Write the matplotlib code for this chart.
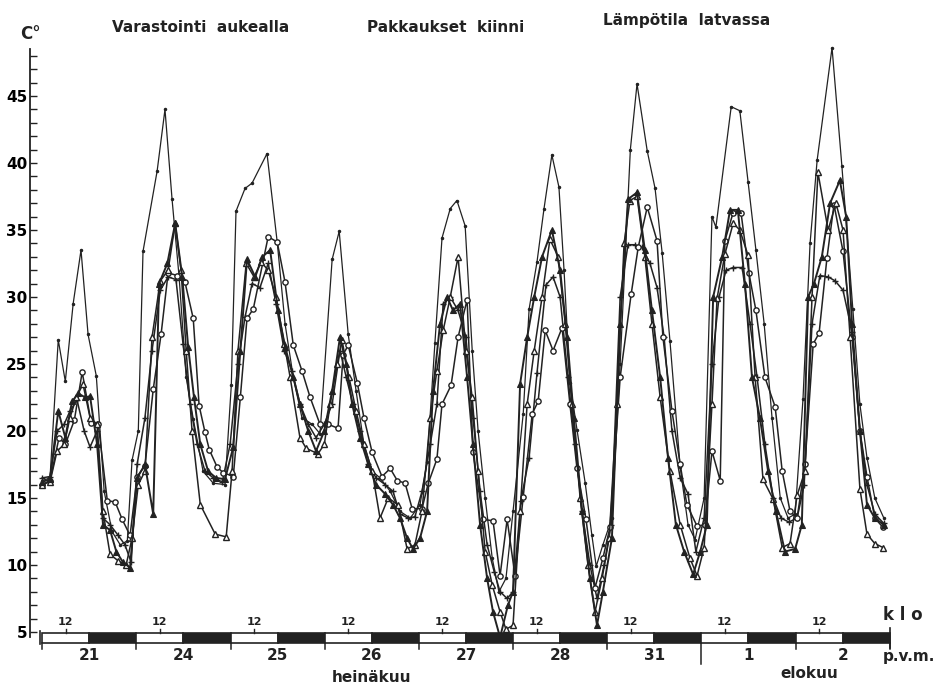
import matplotlib
matplotlib.use("Agg")
import matplotlib.pyplot as plt
from matplotlib.patches import Rectangle

# ---- data: time in hours from 21.7. klo 06, temperature in °C ----
a_t = [0.0, 2.0, 4.1, 5.9, 7.9, 9.9, 11.7, 13.8, 15.8, 17.8, 19.9, 21.7, 22.9, 24.5, 25.7, 29.3, 31.3, 33.1,
       34.9, 36.7, 38.5, 41.0, 43.6, 46.6, 48.2, 49.4, 51.7, 53.5, 57.3, 59.9, 61.9, 64.0, 66.2, 68.8, 70.8,
       73.9, 75.7, 78.0, 80.0, 82.0, 84.1, 86.1, 88.7, 91.2, 93.8, 96.3, 98.1, 100.1, 101.9, 104.0, 105.7,
       107.8, 109.6, 111.1, 112.9, 114.7, 116.4, 118.2, 120.0, 122.6, 124.1, 126.1, 127.9, 129.9, 131.7,
       133.0, 134.5, 136.3, 138.4, 140.1, 141.2, 142.9, 145.2, 147.3, 149.9, 151.6, 154.2, 156.2, 158.0,
       160.0, 162.6, 164.6, 166.4, 168.7, 170.7, 171.7, 175.6, 177.8, 179.9, 181.9, 184.0, 186.0, 188.1,
       190.1, 191.9, 193.9, 195.7, 197.5, 201.3, 203.8, 206.6, 208.4, 210.2, 212.2, 214.5]
a_v = [16.3, 16.5, 26.8, 23.7, 29.5, 33.5, 27.2, 24.1, 15.5, 12.5, 11.5, 11.8, 17.8, 20.0, 33.4, 39.4, 44.0, 37.3,
       31.5, 24.0, 20.9, 17.0, 16.1, 16.0, 23.4, 36.4, 38.1, 38.5, 40.7, 34.1, 28.0, 24.0, 21.0, 20.5, 19.8,
       32.8, 34.9, 27.2, 23.0, 19.0, 17.0, 16.5, 15.5, 14.0, 13.5, 14.5, 17.7, 26.6, 34.4, 36.6, 37.2,
       35.3, 26.0, 20.0, 15.0, 10.5, 8.0, 9.0, 14.0, 21.3, 29.1, 32.6, 36.6, 40.6, 38.2,
       32.0, 23.6, 20.1, 16.1, 12.2, 9.9, 11.5, 13.5, 25.0, 41.0, 45.9, 40.9, 38.1, 33.3,
       26.7, 17.3, 13.0, 11.9, 15.0, 36.0, 35.2, 44.2, 43.9, 38.6, 33.5, 28.0, 21.0, 15.0,
       13.5, 13.8, 22.4, 34.0, 40.2, 48.6, 39.8, 29.1, 22.0, 18.0, 15.0, 13.5]

b_t = [0.0, 2.0, 4.3, 5.9, 8.2, 10.2, 12.5, 14.3, 16.6, 18.6, 20.4, 22.4,
       24.2, 26.2, 28.3, 30.3, 32.1, 34.4, 36.4, 38.5, 40.0, 41.5, 42.6, 44.6, 46.1, 48.7,
       50.5, 52.2, 53.8, 57.6, 59.9, 61.9, 64.0, 66.2, 68.3, 70.8,
       72.9, 75.4, 76.7, 78.0, 80.3, 82.0, 84.1, 86.6, 88.7, 90.5, 92.5, 94.3, 96.8,
       98.4, 100.6, 101.9, 104.2, 106.0, 108.3, 109.8, 112.4, 114.9, 116.7, 118.5,
       120.5, 122.6, 124.9, 126.4, 128.2, 130.2, 132.5, 134.5, 136.3, 138.6, 140.9, 142.9, 144.7,
       147.3, 150.1, 151.9, 154.2, 156.7, 158.2, 160.5, 162.6, 164.3, 166.9,
       168.9, 170.7, 172.8, 174.0, 176.1, 178.1, 180.1, 181.9, 184.2, 186.8, 188.6, 190.6,
       192.4, 194.4, 196.5, 198.0, 200.0, 201.8, 204.1, 206.4, 208.4, 210.2, 212.2, 214.3]
b_v = [16.0, 16.3, 19.5, 19.0, 20.8, 24.4, 20.6, 20.5, 14.8, 14.7, 13.4, 12.2,
       16.6, 17.4, 23.1, 27.2, 31.8, 31.6, 31.1, 28.4, 21.9, 19.9, 18.6, 17.3, 16.9, 16.6,
       22.5, 28.4, 29.1, 34.5, 34.1, 31.1, 26.4, 24.5, 22.5, 20.5,
       20.5, 20.2, 25.7, 26.4, 23.6, 21.0, 18.4, 16.6, 17.2, 16.3, 16.1, 14.2, 14.2,
       16.1, 17.9, 22.0, 23.4, 27.0, 29.8, 18.4, 13.4, 13.3, 9.2, 13.4,
       9.2, 15.1, 21.3, 22.2, 27.5, 26.0, 27.7, 22.0, 17.2, 13.4, 8.3, 10.5, 12.8,
       24.0, 30.2, 33.7, 36.7, 34.2, 27.0, 21.5, 17.5, 14.5, 12.9,
       13.0, 18.5, 16.3, 34.2, 36.3, 36.3, 31.8, 29.0, 24.0, 21.8, 17.0, 14.0,
       13.5, 17.5, 26.5, 27.3, 32.9, 36.9, 33.4, 27.0, 20.0, 16.6, 13.5, 12.8]

c_t = [0.0, 2.0, 4.1, 5.9, 7.6, 9.2, 11.0, 12.2, 14.0, 15.5, 17.3, 18.9, 20.6, 22.4,
       24.2, 26.2, 28.3, 29.8, 31.9, 33.9, 35.7, 37.2, 38.7, 40.3, 42.3, 44.3, 46.6,
       48.7, 50.5, 52.2, 54.3, 56.1, 58.1, 60.1, 61.9, 64.0, 65.7, 67.8, 69.8,
       71.9, 73.9, 75.9, 77.5, 79.0, 81.0, 83.1, 85.1, 87.4, 89.4, 91.2, 93.0, 94.5,
       96.3, 98.1, 99.6, 101.4, 103.2, 104.7, 106.5, 108.3, 109.8, 111.6, 113.4, 114.9, 116.7,
       118.7, 120.0, 121.8, 123.6, 125.4, 127.4, 129.9, 132.0, 133.8, 135.5, 137.6, 139.6, 141.4,
       142.9, 145.2, 147.3, 149.3, 151.6, 153.6, 155.4, 157.5, 159.5, 161.5, 163.6, 165.9,
       167.7, 169.4, 171.0, 173.3, 175.3, 177.3, 179.1, 180.9, 182.9, 185.0, 187.0, 189.3,
       191.9, 193.6, 195.2, 196.7, 198.7, 200.8, 203.3, 204.9, 206.4, 208.4, 210.2, 212.2, 214.5]
c_v = [16.2, 16.4, 21.5, 19.5, 22.2, 22.8, 22.5, 22.6, 19.0, 13.0, 12.6, 11.0, 10.2, 9.8,
       16.5, 17.5, 13.8, 31.0, 32.5, 35.5, 31.5, 26.3, 22.5, 19.0, 17.0, 16.5, 16.4,
       18.8, 26.0, 32.8, 31.5, 33.0, 33.5, 29.0, 26.3, 24.0, 22.0, 20.0, 18.5,
       20.0, 23.0, 27.0, 25.0, 22.0, 19.5, 17.5, 16.0, 15.3, 14.5, 13.5, 12.0, 11.2,
       12.0, 14.0, 23.0, 28.0, 30.0, 29.0, 29.5, 24.0, 19.0, 13.0, 9.0, 6.5, 4.6,
       7.0, 8.0, 23.5, 27.0, 30.0, 33.0, 35.0, 32.0, 27.0, 21.0, 14.0, 9.0, 5.5,
       8.0, 12.0, 28.0, 37.3, 37.8, 33.5, 29.0, 24.0, 18.0, 13.0, 11.0, 9.3,
       11.0, 13.0, 30.0, 33.0, 36.5, 36.5, 31.0, 24.0, 21.0, 17.0, 14.0, 11.0,
       11.2, 13.0, 30.0, 31.0, 33.0, 37.0, 38.7, 36.0, 28.0, 20.0, 14.5, 13.5, 13.0]

d_t = [0.0, 2.0, 3.8, 5.6, 7.1, 8.7, 10.4, 12.2, 14.0, 15.5, 17.3, 19.4, 21.4, 22.9,
       24.5, 26.2, 28.0, 30.1, 32.1, 33.9, 35.4, 36.7, 38.2, 40.3, 44.1, 46.9,
       48.4, 49.9, 52.0, 54.0, 55.8, 57.6, 59.6, 61.7, 63.2, 65.7, 67.3, 70.3,
       71.9, 73.4, 75.2, 76.4, 78.2, 80.0, 82.0, 84.1, 86.1, 88.2, 90.7, 93.0, 95.0,
       96.8, 98.9, 100.6, 102.2, 104.0, 106.0, 108.0, 109.6, 111.1, 112.9, 114.7, 116.7, 118.2,
       120.0, 121.8, 123.6, 125.4, 127.4, 129.4, 131.5, 133.3, 135.0, 137.1, 139.1, 140.9, 142.7,
       144.5, 146.5, 148.3, 149.8, 151.6, 153.6, 155.4, 157.5, 160.0, 162.6, 165.1, 166.9,
       168.7, 170.7, 172.0, 174.0, 176.1, 177.8, 179.9, 181.7, 183.7, 186.3, 188.6, 190.6,
       192.4, 194.4, 196.2, 197.7, 200.3, 202.3, 204.1, 205.9, 208.4, 210.2, 212.2, 214.3]
d_v = [16.0, 16.2, 18.5, 19.0, 21.0, 22.5, 23.5, 21.0, 20.5, 14.0, 10.8, 10.3, 10.0, 12.0,
       16.0, 17.0, 27.0, 31.2, 32.0, 35.5, 32.0, 26.0, 20.0, 14.5, 12.3, 12.1,
       17.0, 26.0, 32.5, 31.5, 32.6, 32.0, 30.0, 26.5, 24.0, 19.5, 18.7, 18.3,
       19.0, 22.0, 25.0, 26.8, 24.0, 21.5, 19.0, 17.0, 13.5, 15.0, 14.5, 11.2, 11.5,
       14.0, 21.0, 24.5, 27.5, 30.0, 33.0, 26.0, 22.5, 17.0, 11.0, 8.5, 6.5, 5.2,
       5.5, 14.0, 22.0, 26.0, 30.0, 34.3, 33.0, 28.0, 22.0, 15.0, 10.0, 6.5, 9.0,
       12.0, 22.0, 34.0, 37.2, 37.5, 33.0, 28.0, 22.5, 17.0, 13.0, 10.5, 9.2,
       11.3, 22.0, 29.9, 33.2, 35.5, 35.0, 33.1, 24.0, 16.4, 14.9, 11.3, 11.6,
       15.2, 17.0, 30.0, 39.3, 35.0, 37.0, 35.0, 27.0, 15.7, 12.3, 11.6, 11.3]

e_t = [0.0, 2.0, 3.8, 5.6, 7.1, 8.9, 10.7, 12.2, 14.0, 15.5, 17.3, 19.4, 21.1, 22.7,
       24.2, 26.2, 28.0, 30.1, 32.1, 34.1, 35.9, 37.7, 39.5, 41.5, 43.6, 45.9,
       47.9, 49.9, 51.7, 53.5, 55.5, 57.6, 59.6, 61.7, 63.7, 65.7, 67.8, 69.8,
       71.9, 73.9, 75.9, 77.5, 79.2, 81.0, 83.1, 85.1, 87.4, 89.4, 91.2, 93.3, 95.0,
       96.8, 98.9, 100.6, 102.2, 104.0, 106.0, 108.0, 109.8, 111.6, 113.4, 115.2, 116.7, 118.5,
       120.0, 122.0, 124.1, 126.1, 128.4, 130.2, 132.0, 134.0, 135.8, 137.6, 139.6, 141.4, 143.2,
       145.0, 147.3, 149.3, 151.1, 152.9, 154.9, 156.7, 158.5, 160.5, 162.6, 164.6, 166.6,
       168.7, 170.7, 172.5, 174.3, 176.1, 178.4, 180.4, 182.2, 184.2, 186.3, 188.3, 190.3,
       192.4, 194.2, 196.2, 198.2, 200.3, 202.1, 204.1, 206.4, 208.4, 210.2, 212.2, 214.5]
e_v = [16.5, 16.6, 20.0, 20.5, 21.5, 22.3, 20.0, 18.8, 20.0, 13.5, 13.0, 12.2, 11.5, 10.2,
       17.5, 21.0, 26.0, 30.5, 31.5, 31.3, 26.5, 22.0, 19.0, 17.0, 16.5, 16.2,
       19.0, 25.0, 28.5, 31.0, 30.7, 32.5, 29.5, 26.0, 24.5, 22.0, 20.5, 19.5,
       20.5, 22.0, 26.0, 24.0, 22.0, 20.0, 17.5, 16.5, 16.0, 15.5, 13.8, 13.5, 13.6,
       15.5, 19.0, 22.0, 29.5, 30.0, 29.0, 27.0, 21.0, 15.5, 11.5, 9.5, 8.0, 7.5,
       8.0, 14.8, 18.0, 24.3, 30.9, 31.5, 30.0, 24.0, 19.0, 14.0, 10.0, 7.5, 10.0,
       13.0, 30.0, 33.9, 33.9, 33.7, 32.5, 30.7, 27.0, 20.0, 16.5, 15.3, 11.0,
       13.5, 25.0, 30.0, 32.0, 32.2, 32.2, 28.0, 24.0, 19.0, 15.0, 13.5, 13.2,
       13.5, 16.0, 28.0, 31.6, 31.5, 31.2, 30.5, 27.4, 20.0, 16.0, 13.8, 13.1]

day_labels = ["21", "24", "25", "26", "27", "28", "31", "1", "2"]
y_ticks = [5, 10, 15, 20, 25, 30, 35, 40, 45]

# ---- figure ----
W, H = 937, 687
fig = plt.figure(figsize=(W / 100, H / 100), dpi=100)
fig.patch.set_facecolor("white")
ax = fig.add_axes([30 / W, 0.0606, 866 / W, 0.8777])
ax.set_xlim(-3.1, 217.6)
ax.set_ylim(4.0, 49.0)

ink = "#222222"
ax.plot(a_t, a_v, color=ink, lw=0.9, marker=".", ms=3, zorder=3)
ax.plot(e_t, e_v, color=ink, lw=1.1, marker="+", ms=4.5, mew=1.0, zorder=4)
ax.plot(b_t, b_v, color=ink, lw=1.1, marker="o", ms=3.8, mfc="white", mew=1.0, zorder=5)
ax.plot(d_t, d_v, color=ink, lw=1.1, marker="^", ms=4.3, mfc="white", mew=1.0, zorder=5)
ax.plot(c_t, c_v, color=ink, lw=1.4, marker="^", ms=4.3, mfc=ink, mew=0.8, zorder=6)

# axes styling
for s in ["top", "right", "bottom"]:
    ax.spines[s].set_visible(False)
ax.spines["left"].set_bounds(4.6, 48.5)
ax.spines["left"].set_linewidth(1.3)
ax.spines["left"].set_color(ink)
ax.set_xticks([])
ax.set_yticks(y_ticks)
ax.set_yticklabels([str(v) for v in y_ticks], fontweight="bold", fontsize=11)
ax.set_yticks(range(5, 49), minor=True)
ax.tick_params(axis="y", which="both", direction="in", length=5, width=1.0, color=ink, pad=2)

# time bar (white = day 06-18, black = night)
n_days = len(day_labels)
for k in range(n_days):
    ax.add_patch(Rectangle((24 * k, 4.2), 12, 0.73, facecolor="white", edgecolor=ink, lw=1.2, zorder=7))
    ax.add_patch(Rectangle((24 * k + 12, 4.2), 12, 0.73, facecolor=ink, edgecolor=ink, lw=1.2, zorder=7))
    ax.plot([24 * k + 6, 24 * k + 6], [4.93, 5.25], color=ink, lw=1.0, zorder=7, clip_on=False)
    ax.text(24 * k + 6, 5.4, "12", ha="center", va="bottom", fontsize=8, fontweight="bold", color=ink)
    ax.text(24 * k + 12, 3.25, day_labels[k], ha="center", va="center", fontsize=11,
            fontweight="bold", color=ink, clip_on=False)
for k in range(n_days + 1):
    low = 2.6 if k == 7 else 3.7
    ax.plot([24 * k, 24 * k], [4.2, low], color=ink, lw=1.1, zorder=7, clip_on=False)
ax.plot([216, 216], [3.8, 5.3], color=ink, lw=1.2, clip_on=False, zorder=7)
ax.plot([-0.5, -0.5], [4.1, 5.1], color=ink, lw=1.2, clip_on=False, zorder=7)

# texts
tk = dict(fontweight="bold", color=ink)
fig.text(112 / W, 1 - 27 / H, "Varastointi  aukealla", fontsize=11, ha="left", va="center", **tk)
fig.text(367 / W, 1 - 27 / H, "Pakkaukset  kiinni", fontsize=11, ha="left", va="center", **tk)
fig.text(603 / W, 1 - 21 / H, "Lämpötila  latvassa", fontsize=11, ha="left", va="center", **tk)
fig.text(20 / W, 1 - 34 / H, "C°", fontsize=12, ha="left", va="center", **tk)
fig.text(883 / W, 1 - 615 / H, "k l o", fontsize=12, ha="left", va="center", **tk)
fig.text(883 / W, 1 - 657 / H, "p.v.m.", fontsize=11, ha="left", va="center", **tk)
fig.text(372 / W, 1 - 678 / H, "heinäkuu", fontsize=11, ha="center", va="center", **tk)
fig.text(809 / W, 1 - 674 / H, "elokuu", fontsize=11, ha="center", va="center", **tk)

fig.savefig("out.png", dpi=100, facecolor="white")
